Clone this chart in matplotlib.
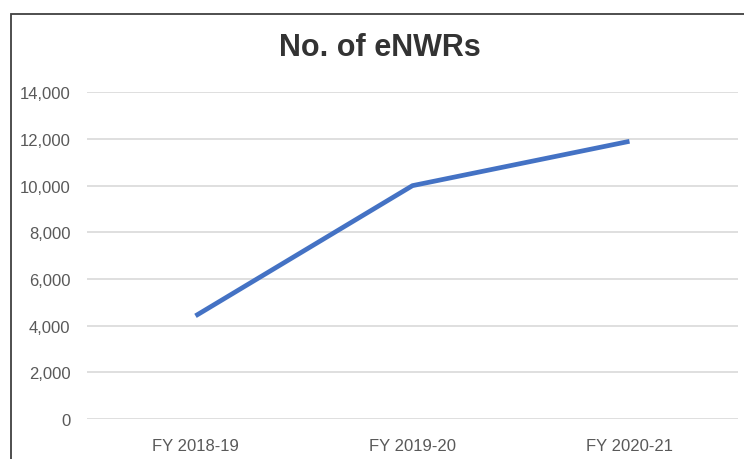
import matplotlib
matplotlib.use("Agg")
import matplotlib.pyplot as plt
from matplotlib.patches import Rectangle
from matplotlib.ticker import FuncFormatter

# data
years = ["FY 2018-19", "FY 2019-20", "FY 2020-21"]
enwrs = [4420, 10000, 11900]
yticks = [0, 2000, 4000, 6000, 8000, 10000, 12000, 14000]

plt.rcParams['font.family'] = ['Liberation Sans', 'DejaVu Sans']

fig = plt.figure(figsize=(7.44, 4.6), dpi=100)
ax = fig.add_axes([87/744, 1 - 420/460, 651/744, (420 - 93.3)/460])

x = list(range(len(years)))
ax.plot(x, enwrs, color="#4472C4", lw=3.4, solid_capstyle="butt", zorder=3)

ax.set_xlim(-0.5, 2.5)
ax.set_ylim(0, 14000)
ax.set_xticks(x)
ax.set_xticklabels(years)
ax.set_yticks(yticks)
ax.yaxis.set_major_formatter(FuncFormatter(lambda v, p: f"{int(v):,}"))

ax.grid(axis="y", color="#D9D9D9", lw=1.2)
ax.set_axisbelow(True)
for s in ax.spines.values():
    s.set_visible(False)
ax.tick_params(axis="both", length=0, labelsize=12, colors="#595959")
ax.tick_params(axis="y", pad=12)
ax.tick_params(axis="x", pad=14)

fig.text(380/744, 1 - 48/460, "No. of eNWRs", ha="center", va="center",
         fontsize=22, fontweight="bold", color="#333333")

# chart frame, cut off at the bottom and right
fig.patches.append(Rectangle((10.5/744, -0.1), 1.0, 1 - 15/460 + 0.1,
                             transform=fig.transFigure, fill=False,
                             edgecolor="#404040", lw=1.3))

fig.savefig("out.png", dpi=100)
